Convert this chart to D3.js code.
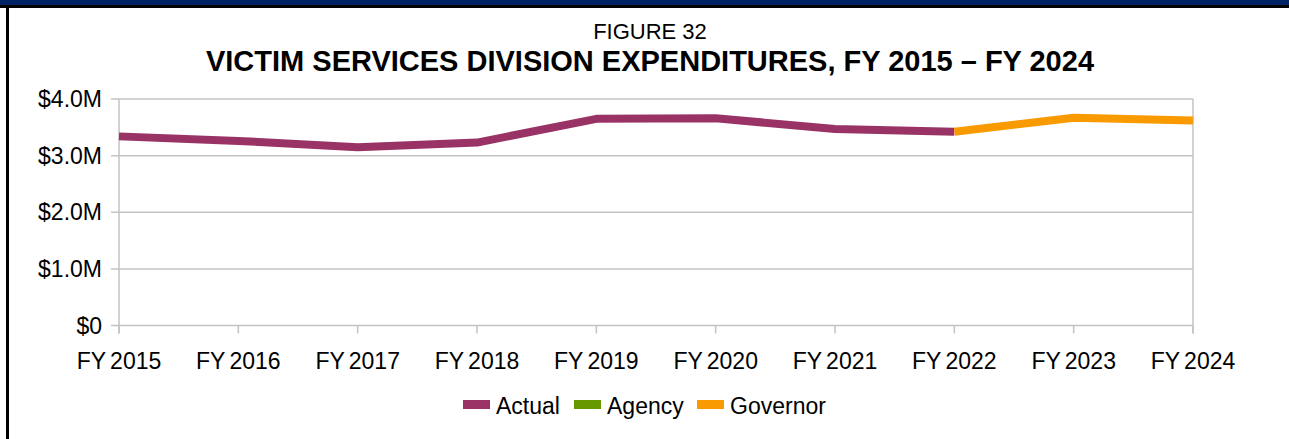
<!DOCTYPE html>
<html>
<head>
<meta charset="utf-8">
<script src="https://cdn.jsdelivr.net/npm/d3@7"></script>
<style>
  body { margin: 0; background: #fff; }
  text { font-family: "Liberation Sans", Arial, sans-serif; }
</style>
</head>
<body>
<svg id="chart" width="1289" height="439"></svg>
<script>
var years = ["FY 2015", "FY 2016", "FY 2017", "FY 2018", "FY 2019", "FY 2020", "FY 2021", "FY 2022", "FY 2023", "FY 2024"];
var actual = [3.34, 3.26, 3.15, 3.23, 3.65, 3.66, 3.47, 3.42, null, null];
var agency = [null, null, null, null, null, null, null, null, null, null];
var governor = [null, null, null, null, null, null, null, 3.42, 3.67, 3.62];
var yTicks = [0, 1, 2, 3, 4];
var yTickLabels = ["$0", "$1.0M", "$2.0M", "$3.0M", "$4.0M"];

var series = [
  { name: "Actual", values: actual, color: "#993366" },
  { name: "Agency", values: agency, color: "#669900" },
  { name: "Governor", values: governor, color: "#f99a00" }
];

var svg = d3.select("#chart");
var W = 1289, H = 439;

/* --------- FRAME ---------*/
svg.append("rect").attr("x", 0).attr("y", 0).attr("width", W).attr("height", 6).attr("fill", "#002266");
svg.append("rect").attr("x", 0).attr("y", 5).attr("width", W).attr("height", 3).attr("fill", "#000");
svg.append("rect").attr("x", 6).attr("y", 5).attr("width", 3).attr("height", H - 5).attr("fill", "#000");

/* --------- TITLES ---------*/
svg.append("text").attr("x", 650).attr("y", 39).attr("text-anchor", "middle")
  .attr("font-size", 22).text("FIGURE 32");
svg.append("text").attr("x", 650).attr("y", 71).attr("text-anchor", "middle")
  .attr("font-size", 29).attr("font-weight", "bold")
  .text("VICTIM SERVICES DIVISION EXPENDITURES, FY 2015 \u2013 FY 2024");

/* --------- SCALES ---------*/
var x = d3.scalePoint().domain(years).range([119, 1193]);
var y = d3.scaleLinear().domain([0, 4]).range([325.5, 99]);

var grid = "#c3c3c3";
var g = svg.append("g");

// horizontal gridlines
g.selectAll("line.grid").data(yTicks).enter().append("line")
  .attr("class", "grid")
  .attr("x1", x.range()[0] - 8).attr("x2", x.range()[1])
  .attr("y1", function (d) { return y(d); }).attr("y2", function (d) { return y(d); })
  .attr("stroke", grid).attr("stroke-width", 1.5);

// vertical axis lines
g.append("line").attr("x1", x.range()[0]).attr("x2", x.range()[0])
  .attr("y1", y(4)).attr("y2", y(0) + 8).attr("stroke", grid).attr("stroke-width", 1.5);
g.append("line").attr("x1", x.range()[1]).attr("x2", x.range()[1])
  .attr("y1", y(4)).attr("y2", y(0) + 8).attr("stroke", grid).attr("stroke-width", 1.5);

// x tick marks
g.selectAll("line.xt").data(years).enter().append("line")
  .attr("class", "xt")
  .attr("x1", function (d) { return x(d); }).attr("x2", function (d) { return x(d); })
  .attr("y1", y(0)).attr("y2", y(0) + 8)
  .attr("stroke", grid).attr("stroke-width", 1.5);

// y labels
g.selectAll("text.yl").data(yTicks).enter().append("text")
  .attr("class", "yl")
  .attr("x", 102).attr("y", function (d) { return y(d) + 8; })
  .attr("text-anchor", "end").attr("font-size", 23)
  .text(function (d, i) { return yTickLabels[i]; });

// x labels
g.selectAll("text.xl").data(years).enter().append("text")
  .attr("class", "xl")
  .attr("x", function (d) { return x(d); }).attr("y", 369)
  .attr("text-anchor", "middle").attr("font-size", 23).attr("word-spacing", -2)
  .text(function (d) { return d; });

/* --------- LINES ---------*/
var line = d3.line()
  .defined(function (d) { return d != null; })
  .x(function (d, i) { return x(years[i]); })
  .y(function (d) { return y(d); });

svg.append("g").selectAll("path.series").data(series).enter().append("path")
  .attr("class", "series")
  .attr("d", function (s) { return line(s.values); })
  .attr("fill", "none")
  .attr("stroke", function (s) { return s.color; })
  .attr("stroke-width", 8)
  .attr("stroke-linejoin", "round");

/* --------- LEGEND ---------*/
var legendX = [463, 574, 697];
var lg = svg.append("g").selectAll("g.leg").data(series).enter().append("g")
  .attr("class", "leg")
  .attr("transform", function (d, i) { return "translate(" + legendX[i] + ",405)"; });
lg.append("rect").attr("x", 0).attr("y", -5).attr("width", 27).attr("height", 9)
  .attr("fill", function (d) { return d.color; });
lg.append("text").attr("x", 33).attr("y", 9).attr("font-size", 23)
  .text(function (d) { return d.name; });
</script>
</body>
</html>
